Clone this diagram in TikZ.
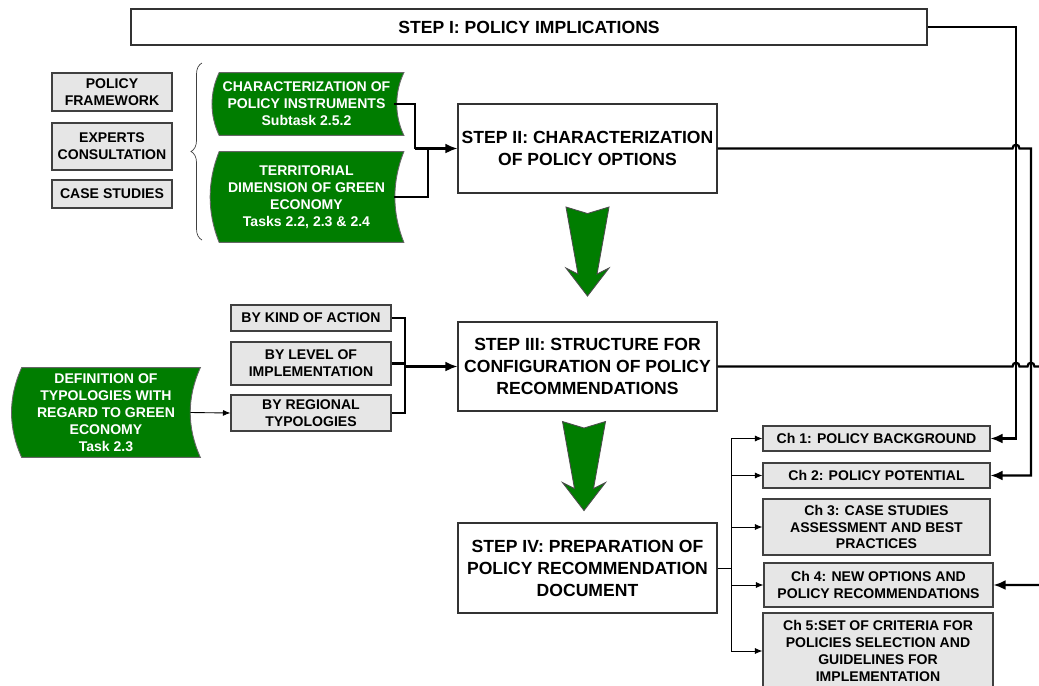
\documentclass[tikz,border=0pt]{standalone}
\usepackage{fontspec}
\setmainfont{Liberation Sans}
\usetikzlibrary{arrows.meta,positioning,calc,decorations.pathreplacing,backgrounds}
\definecolor{stepgreen}{RGB}{0,125,0}
\definecolor{boxgray}{RGB}{230,230,230}

% green "stored data" shape behind a node
\newcommand{\greenshape}[3]{%
  \fill[stepgreen, draw=black!60, line width=0.5pt]
    ([xshift=0.1cm]#1.north west) .. controls +(-#3,-#2) and +(-#3,#2) .. ([xshift=0.1cm]#1.south west)
    -- ([xshift=0.1cm]#1.south east) .. controls +(-#3,#2) and +(-#3,-#2) .. ([xshift=0.1cm]#1.north east) -- cycle;}
% big green down arrow
\newcommand{\greenarrow}[1]{%
  \fill[stepgreen, draw=black!70, line width=0.5pt, shift={(#1)}]
    (-0.43,0) -- (0,-0.13) -- (0.43,0) -- (0.19,-1.34) -- (0.43,-1.22) -- (0,-1.78)
    -- (-0.43,-1.22) -- (-0.19,-1.34) -- cycle;}

\begin{document}
\begin{tikzpicture}[
        stepbox/.style={draw=black!80, fill=white, line width=0.6pt, align=center, inner sep=1pt, font=\fontsize{10}{12.5}\selectfont\bfseries},
        graybox/.style={draw=black!75, fill=boxgray, line width=0.6pt, align=center, inner sep=1pt, font=\fontsize{8}{9.6}\selectfont\bfseries},
        greenbox/.style={align=center, inner sep=1pt, text=white, font=\fontsize{8}{9.6}\selectfont\bfseries},
        link/.style={line width=1.3pt},
        bigarr/.style={link, -{Latex[length=2.4mm,width=2mm]}},
        smallarr/.style={line width=0.5pt, -{Latex[length=1.5mm,width=1.2mm]}}
    ]
        \useasboundingbox (0,0) rectangle (20.78,-13.7);
        \clip (0,0) rectangle (20.78,-13.7);

        % steps
        \node[stepbox, minimum width=15.92cm, minimum height=0.72cm] (s1) at (10.58,-0.54) {STEP I: POLICY IMPLICATIONS};
        \node[stepbox, minimum width=5.18cm, minimum height=1.78cm] (s2) at (11.75,-2.97) {STEP II: CHARACTERIZATION\\OF POLICY OPTIONS};
        \node[stepbox, minimum width=5.18cm, minimum height=1.78cm] (s3) at (11.75,-7.33) {STEP III: STRUCTURE FOR\\CONFIGURATION OF POLICY\\RECOMMENDATIONS};
        \node[stepbox, minimum width=5.18cm, minimum height=1.8cm] (s4) at (11.75,-11.36) {STEP IV: PREPARATION OF\\POLICY RECOMMENDATION\\DOCUMENT};

        % sources
        \node[graybox, minimum width=2.4cm, minimum height=0.76cm] (pf) at (2.24,-1.84) {POLICY\\FRAMEWORK};
        \node[graybox, minimum width=2.4cm, minimum height=0.94cm] (ec) at (2.24,-2.93) {EXPERTS\\CONSULTATION};
        \node[graybox, minimum width=2.4cm, minimum height=0.56cm] (cs) at (2.24,-3.88) {CASE STUDIES};

        \node[greenbox, minimum width=3.68cm, minimum height=1.24cm] (g1) at (6.13,-2.08) {CHARACTERIZATION OF\\POLICY INSTRUMENTS\\Subtask 2.5.2};
        \node[greenbox, minimum width=3.68cm, minimum height=1.8cm] (g2) at (6.13,-3.94) {TERRITORIAL\\DIMENSION OF GREEN\\ECONOMY\\Tasks 2.2, 2.3 \& 2.4};
        \node[greenbox, minimum width=3.56cm, minimum height=1.78cm] (g3) at (2.12,-8.25) {DEFINITION OF\\TYPOLOGIES WITH\\REGARD TO GREEN\\ECONOMY\\Task 2.3};

        % typologies
        \node[graybox, minimum width=3.2cm, minimum height=0.52cm] (k1) at (6.22,-6.36) {BY KIND OF ACTION};
        \node[graybox, minimum width=3.2cm, minimum height=0.86cm] (k2) at (6.22,-7.27) {BY LEVEL OF\\IMPLEMENTATION};
        \node[graybox, minimum width=3.2cm, minimum height=0.72cm] (k3) at (6.22,-8.26) {BY REGIONAL\\TYPOLOGIES};

        % chapters
        \node[graybox, minimum width=4.54cm, minimum height=0.5cm] (ch1) at (17.53,-8.77) {Ch 1: POLICY BACKGROUND};
        \node[graybox, minimum width=4.54cm, minimum height=0.5cm] (ch2) at (17.53,-9.51) {Ch 2: POLICY POTENTIAL};
        \node[graybox, minimum width=4.54cm, minimum height=1.12cm] (ch3) at (17.53,-10.54) {Ch 3: CASE STUDIES\\ASSESSMENT AND BEST\\PRACTICES};
        \node[graybox, minimum width=4.58cm, minimum height=0.88cm] (ch4) at (17.57,-11.7) {Ch 4: NEW OPTIONS AND\\POLICY RECOMMENDATIONS};
        \node[graybox, minimum width=4.6cm, minimum height=1.52cm] (ch5) at (17.56,-13.02) {Ch 5:SET OF CRITERIA FOR\\POLICIES SELECTION AND\\GUIDELINES FOR\\IMPLEMENTATION};

        \begin{scope}[on background layer]
            \greenshape{g1}{0.4}{0.19}
            \greenshape{g2}{0.6}{0.24}
            \greenshape{g3}{0.6}{0.27}
        \end{scope}

        \greenarrow{$(s2.south)+(0,-0.27)$}
        \greenarrow{$(s3.south)+(-0.07,-0.2)$}

        \draw[black!75, decorate, decoration={brace, amplitude=0.22cm}] (4.04,-4.8) -- (4.04,-1.26);

        % joints
        \coordinate (ja) at (8.3,0);
        \coordinate (jb) at (8.56,0);
        \coordinate (jc) at (8.1,0);
        \coordinate (tr) at (14.62,0);
        \coordinate (busA) at (20.32,0);
        \coordinate (busB) at (20.62,0);
        \coordinate (busC) at (20.95,0);

        \draw[link] ([xshift=-0.1cm]g1.east) -| (s2.west -| ja);
        \draw[link] ([xshift=-0.1cm]g2.east) -| (s2.west -| jb);
        \draw[bigarr] (s2.west -| ja) -- (s2.west);

        \foreach \k in {k1,k2,k3}
            \draw[link] (\k.east) -| (s3.west -| jc);
        \draw[bigarr] (s3.west -| jc) -- (s3.west);
        \draw[smallarr] ([xshift=-0.1cm]g3.east) -- (k3.west);

        \draw (s4.east) -- (s4.east -| tr);
        \draw (tr |- ch1.west) -- (tr |- ch5.west);
        \foreach \c in {ch1,ch2,ch3,ch4,ch5}
            \draw[smallarr] (tr |- \c.west) -- (\c.west);

        % feedback lines with hops
        \draw[bigarr] (s1.east) -| (busA |- ch1.east) -- (ch1.east);
        \draw[bigarr] (s2.east) -- ([xshift=-0.07cm]s2.east -| busA)
            .. controls +(0,0.1) and +(0,0.1) .. ([xshift=0.07cm]s2.east -| busA)
            -| (busB |- ch2.east) -- (ch2.east);
        \draw[bigarr] (s3.east) -- ([xshift=-0.07cm]s3.east -| busA)
            .. controls +(0,0.1) and +(0,0.1) .. ([xshift=0.07cm]s3.east -| busA)
            -- ([xshift=-0.07cm]s3.east -| busB)
            .. controls +(0,0.1) and +(0,0.1) .. ([xshift=0.07cm]s3.east -| busB)
            -| (busC |- ch4.east) -- (ch4.east);
    \end{tikzpicture}
\end{document}
